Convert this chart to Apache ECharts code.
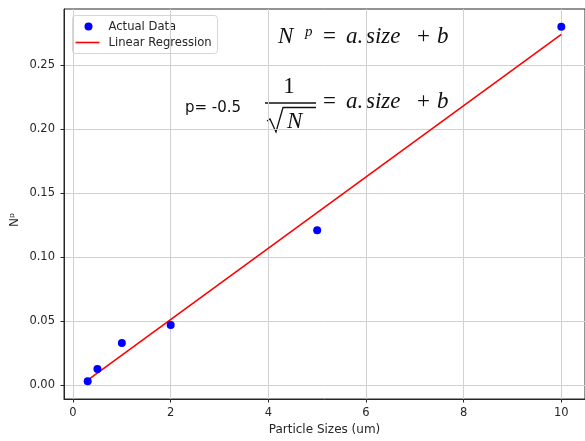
<!DOCTYPE html>
<html>
<head>
<meta charset="utf-8">
<script src="https://cdn.jsdelivr.net/npm/echarts@6/dist/echarts.min.js"></script>
<style>
  html, body { margin: 0; padding: 0; background: #fff; }
  #chart { width: 585px; height: 441px; }
</style>
</head>
<body>
<div id="chart"></div>
<script>
// 数据
const sizes = [0.3, 0.5, 1, 2, 5, 10];
const npValues = [0.003, 0.0127, 0.033, 0.047, 0.121, 0.28];
// 回归线两端
const fitX = [0.3, 10];
const fitY = [0.004, 0.274];

const xTicks = [0, 2, 4, 6, 8, 10];
const yTicks = [0, 0.05, 0.1, 0.15, 0.2, 0.25];

const chart = echarts.init(document.getElementById('chart'), null, { renderer: 'canvas' });

const sans = 'DejaVu Sans';
const ink = '#262626';
const mathInk = '#111';
const mathFont = (px, italic) => (italic ? 'italic ' : '') + px + 'px "Liberation Serif"';

// 公式的一行: "= a.size + b"  (top 对齐, baseline ≈ top + 20)
const rhs = (top) => [
  { type: 'text', x: 323, y: top, style: { text: '=', font: mathFont(23), fill: mathInk } },
  { type: 'text', x: 346, y: top, style: { text: 'a.', font: mathFont(23, true), fill: mathInk } },
  { type: 'text', x: 366, y: top, style: { text: 'size', font: mathFont(23, true), fill: mathInk } },
  { type: 'text', x: 417, y: top, style: { text: '+', font: mathFont(23), fill: mathInk } },
  { type: 'text', x: 437, y: top, style: { text: 'b', font: mathFont(23, true), fill: mathInk } }
];

const option = {
  animation: false,
  backgroundColor: '#fff',
  grid: {
    left: 64, top: 9, width: 526.5, height: 390,
    show: true, borderColor: ink, borderWidth: 1, backgroundColor: 'transparent'
  },
  xAxis: {
    type: 'value',
    min: -0.185, max: 10.485,
    minInterval: 2, maxInterval: 2,
    name: 'Particle Sizes (um)',
    nameLocation: 'middle',
    nameGap: 24,
    nameTextStyle: { fontFamily: sans, fontSize: 12, color: ink },
    axisLine: { show: true, onZero: false, lineStyle: { color: ink, width: 1 } },
    axisTick: { show: true, length: 3.5, lineStyle: { color: ink }, customValues: xTicks },
    axisLabel: {
      fontFamily: sans, fontSize: 11.5, color: ink, margin: 8,
      customValues: xTicks
    },
    splitLine: { show: true, lineStyle: { color: '#d0d0d0', width: 1 } }
  },
  yAxis: {
    type: 'value',
    min: -0.0108, max: 0.2939,
    minInterval: 0.05, maxInterval: 0.05,
    axisLine: { show: true, onZero: false, lineStyle: { color: ink, width: 1 } },
    axisTick: { show: true, length: 3.5, lineStyle: { color: ink }, customValues: yTicks },
    axisLabel: {
      fontFamily: sans, fontSize: 11.5, color: ink, margin: 9,
      customValues: yTicks,
      formatter: v => v.toFixed(2)
    },
    splitLine: { show: true, lineStyle: { color: '#d0d0d0', width: 1 } }
  },
  series: [
    {
      name: 'Actual Data',
      type: 'scatter',
      symbolSize: 8,
      itemStyle: { color: '#0000ff', opacity: 1 },
      data: sizes.map((s, i) => [s, npValues[i]]),
      z: 3
    },
    {
      name: 'Linear Regression',
      type: 'line',
      symbol: 'none',
      lineStyle: { color: '#ff0000', width: 1.6 },
      itemStyle: { color: '#ff0000' },
      data: fitX.map((s, i) => [s, fitY[i]]),
      z: 2
    }
  ],
  graphic: [
    // y轴名称
    {
      type: 'text', x: 15, y: 220, rotation: Math.PI / 2,
      style: { text: 'Nᵖ', font: '12px "DejaVu Sans"', fill: ink, align: 'center', verticalAlign: 'middle' }
    },
    // 图例
    {
      type: 'group', left: 72, top: 15, z: 100,
      children: [
        { type: 'rect', shape: { x: 0, y: 0, width: 145, height: 38, r: 3 },
          style: { fill: 'rgba(255,255,255,0.85)', stroke: '#d6d6d6', lineWidth: 1 } },
        { type: 'circle', shape: { cx: 16, cy: 11, r: 4 }, style: { fill: '#0000ff' } },
        { type: 'text', x: 36, y: 11, style: { text: 'Actual Data', font: '11.6px "DejaVu Sans"', fill: ink, verticalAlign: 'middle' } },
        { type: 'line', shape: { x1: 3, y1: 27, x2: 27, y2: 27 }, style: { stroke: '#ff0000', lineWidth: 1.6 } },
        { type: 'text', x: 36, y: 27, style: { text: 'Linear Regression', font: '11.6px "DejaVu Sans"', fill: ink, verticalAlign: 'middle' } }
      ]
    },
    // 公式 1: N^p = a.size + b
    { type: 'text', x: 278, y: 25, style: { text: 'N', font: mathFont(23, true), fill: mathInk } },
    { type: 'text', x: 305, y: 25, style: { text: 'p', font: mathFont(15, true), fill: mathInk } },
    ...rhs(25),
    // p 值
    { type: 'text', x: 185, y: 101, style: { text: 'p= -0.5', font: '15px "DejaVu Sans"', fill: mathInk } },
    // 公式 2: 1/sqrt(N) = a.size + b
    { type: 'text', x: 289, y: 75, style: { text: '1', font: mathFont(23), fill: mathInk, align: 'center' } },
    { type: 'line', shape: { x1: 265, y1: 103, x2: 316, y2: 103 }, style: { stroke: mathInk, lineWidth: 1.3 } },
    { type: 'polyline', shape: { points: [[267, 121], [270, 119], [276, 132], [283, 107.5], [316, 107.5]] },
      style: { stroke: mathInk, lineWidth: 1.3, fill: null } },
    { type: 'text', x: 287, y: 110, style: { text: 'N', font: mathFont(23, true), fill: mathInk } },
    ...rhs(90)
  ]
};

chart.setOption(option);
</script>
</body>
</html>
